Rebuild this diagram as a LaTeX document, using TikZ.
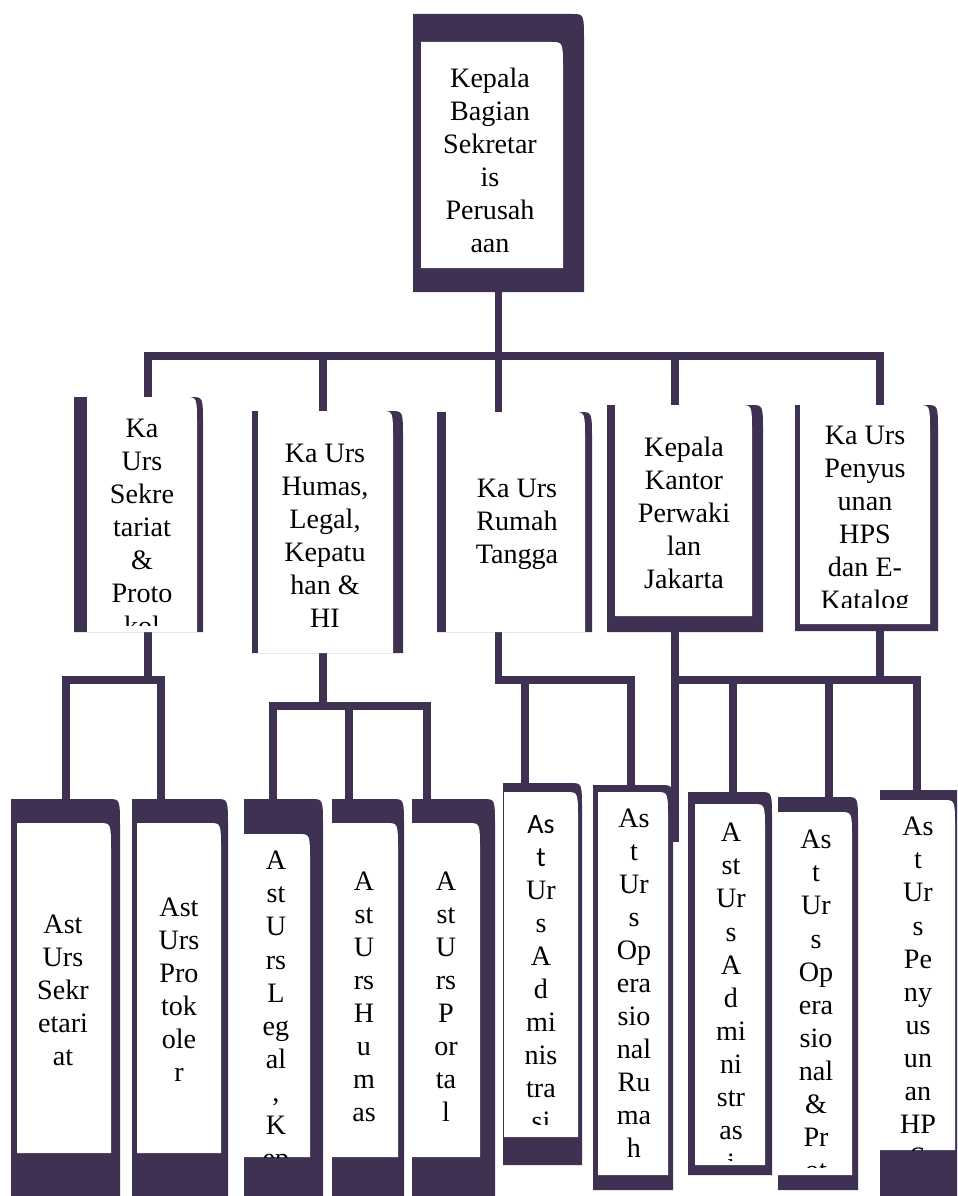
\documentclass[tikz,border=0pt]{standalone}
\usepackage{fontspec}
\setmainfont{Liberation Serif}
\newfontfamily\calibfont{Carlito}
\usetikzlibrary{fit,backgrounds}
\definecolor{orgdark}{HTML}{3F3151}
\tikzset{
  link/.style={orgdark, line width=0.15cm},
  lbl/.style={font=\fontsize{16}{18.8}\selectfont, align=center, inner sep=0pt},
}
% dark frame with curled top-right corner, white card laid on it
\newcommand{\orgbox}[9]{%
  \fill[orgdark] (#2,#5) -- (#2,#3) -- ({#4-12},#3) .. controls (#4,#3) .. (#4,{#3+28}) -- (#4,#5) -- cycle;
  \fill[white] (#6,#9) -- (#6,#7) -- ({#8-12},#7) .. controls (#8,#7) .. (#8,{#7+28}) -- (#8,#9) -- cycle;
  \node[fit={(#2,#3) (#4,#5)}, inner sep=0pt] (#1) {};
}
\begin{document}
\begin{tikzpicture}[x=0.02cm, y=-0.02cm]
  \useasboundingbox (0,0) rectangle (957,1196);
  \clip (0,0) rectangle (957,1196);
  % head of the section
  \orgbox{top}{413}{14}{584}{292}{421}{42}{563}{268}
  \node[lbl] (top-t) at (490,160) {Kepala\\Bagian\\Sekretar\\is\\Perusah\\aan};
  % second row
  \orgbox{s1}{74}{397}{203}{632}{87}{397}{197}{632}
  \begin{scope}
    \clip (87,397) rectangle (197,625);
    \node[lbl, anchor=north] (s1-t) at (142,419) {Ka\\Urs\\Sekre\\tariat\\\&\\Proto\\kol};
  \end{scope}
  \orgbox{s2}{252}{411}{403}{653}{258}{411}{393}{653}
  \node[lbl] (s2-t) at (325,536) {Ka Urs\\Humas,\\Legal,\\Kepatu\\han \&\\HI};
  \orgbox{s3}{437}{412}{592}{632}{446}{412}{585}{632}
  \node[lbl] (s3-t) at (517,524) {Ka Urs\\Rumah\\Tangga};
  \orgbox{s4}{607}{405}{763}{632}{615}{405}{752}{616}
  \node[lbl] (s4-t) at (684,513) {Kepala\\Kantor\\Perwaki\\lan\\Jakarta};
  \orgbox{s5}{795}{405}{938}{631}{800}{405}{930}{624}
  \begin{scope}
    \clip (800,405) rectangle (930,607);
    \node[lbl, anchor=north] (s5-t) at (865,426) {Ka Urs\\Penyus\\unan\\HPS\\dan E-\\Katalog};
  \end{scope}
  % third row
  \orgbox{b1}{11}{799}{120}{1200}{17}{823}{111}{1153}
  \node[lbl] (b1-t) at (63,990) {Ast\\Urs\\Sekr\\etari\\at};
  \orgbox{b2}{132}{799}{228}{1200}{137}{823}{221}{1153}
  \node[lbl] (b2-t) at (179,990) {Ast\\Urs\\Pro\\tok\\ole\\r};
  \orgbox{b3}{244}{799}{323}{1200}{244}{834}{310}{1157}
  \begin{scope}
    \clip (244,834) rectangle (310,1157);
    \node[lbl, anchor=north] (b3-t) at (276,851) {A\\st\\U\\rs\\L\\eg\\al\\,\\K\\ep};
  \end{scope}
  \orgbox{b4}{332}{799}{404}{1200}{332}{823}{398}{1157}
  \node[lbl] (b4-t) at (364,997) {A\\st\\U\\rs\\H\\u\\m\\as};
  \orgbox{b5}{412}{799}{495}{1200}{412}{823}{480}{1157}
  \node[lbl] (b5-t) at (446,997) {A\\st\\U\\rs\\P\\or\\ta\\l};
  \orgbox{b6}{503}{783}{582}{1165}{504}{792}{578}{1137}
  \begin{scope}
    \clip (504,792) rectangle (578,1124);
    \node[lbl, anchor=north] (b6-t) at (541,815) {{\calibfont As}\\{\calibfont t}\\Ur\\s\\A\\d\\mi\\nis\\tra\\si};
  \end{scope}
  \orgbox{b7}{593}{785}{673}{1190}{598}{792}{668}{1175}
  \node[lbl] (b7-t) at (634,983) {As\\t\\Ur\\s\\Op\\era\\sio\\nal\\Ru\\ma\\h};
  \orgbox{b8}{688}{792}{772}{1175}{695}{804}{765}{1165}
  \begin{scope}
    \clip (695,804) rectangle (765,1160);
    \node[lbl, anchor=north] (b8-t) at (731,823) {A\\st\\Ur\\s\\A\\d\\mi\\ni\\str\\as\\i};
  \end{scope}
  \orgbox{b9}{778}{797}{858}{1190}{778}{812}{852}{1175}
  \begin{scope}
    \clip (778,812) rectangle (852,1167);
    \node[lbl, anchor=north] (b9-t) at (816,830) {As\\t\\Ur\\s\\Op\\era\\sio\\nal\\\&\\Pr\\ot};
  \end{scope}
  \orgbox{b10}{880}{790}{965}{1200}{880}{800}{955}{1150}
  \begin{scope}
    \clip (880,800) rectangle (955,1150);
    \node[lbl, anchor=north] (b10-t) at (918,817) {As\\t\\Ur\\s\\Pe\\ny\\us\\un\\an\\HP\\S};
  \end{scope}
  % connectors behind the boxes
  \begin{scope}[on background layer]
    \fill[white] (0,0) rectangle (957,1196);
    \coordinate (d1) at (148,356);
    \coordinate (d2) at (323,356);
    \coordinate (d4) at (675,356);
    \coordinate (d5) at (880,356);
    \coordinate (e1) at (66,680);
    \coordinate (e2) at (161,680);
    \coordinate (f1) at (273,706);
    \coordinate (f2) at (349,706);
    \coordinate (f3) at (427,706);
    \coordinate (g1) at (525,680);
    \coordinate (g2) at (631,680);
    \coordinate (h0) at (675,842);
    \coordinate (h1) at (733,680);
    \coordinate (h2) at (829,680);
    \coordinate (h3) at (917,680);
    \draw[link] (top.south) -- (top.south |- s3.north);
    \draw[link] (s1.north -| d1) |- (d5) -- (s5.north -| d5);
    \draw[link] (d2) -- (s2.north -| d2);
    \draw[link] (d4) -- (s4.north -| d4);
    \draw[link] (s1.south -| d1) -- (d1 |- e1);
    \draw[link] (b1.north -| e1) |- (e2) -- (b2.north -| e2);
    \draw[link] (s2.south -| d2) -- (d2 |- f1);
    \draw[link] (b3.north -| f1) |- (f3) -- (b5.north -| f3);
    \draw[link] (f2) -- (b4.north -| f2);
    \draw[link] (s3.south -| top.south) |- (g2) -- (b7.north -| g2);
    \draw[link] (g1) -- (b6.north -| g1);
    \draw[link] (s4.south -| d4) -- (h0);
    \draw[link] (d4 |- h1) -- (h3) -- (b10.north -| h3);
    \draw[link] (s5.south -| d5) -- (d5 |- h1);
    \draw[link] (h1) -- (b8.north -| h1);
    \draw[link] (h2) -- (b9.north -| h2);
  \end{scope}
\end{tikzpicture}
\end{document}
